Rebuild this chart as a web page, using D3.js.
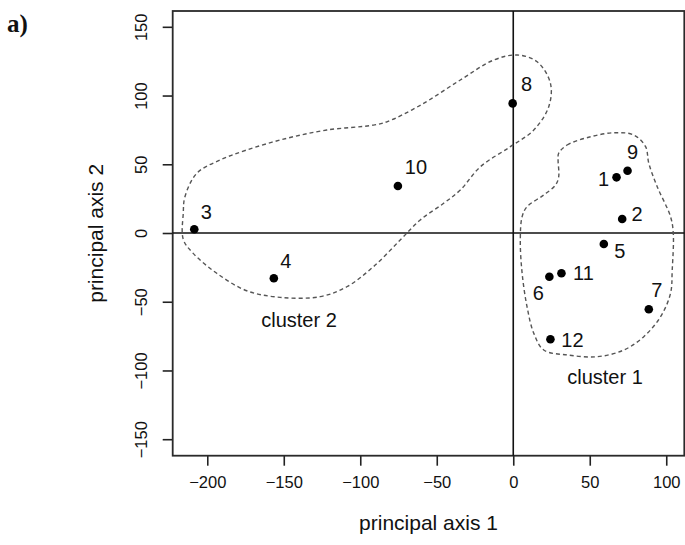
<!DOCTYPE html>
<html>
<head>
<meta charset="utf-8">
<script src="https://cdn.jsdelivr.net/npm/d3@7"></script>
<style>
  body { margin: 0; background: #fff; }
  svg { display: block; }
  text { font-family: "Liberation Sans", Arial, Helvetica, sans-serif; fill: #111; }
</style>
</head>
<body>
<div id="chart"></div>
<script>
// scores on the first two principal axes
const pointIds = ["1", "2", "3", "4", "5", "6", "7", "8", "9", "10", "11", "12"];
const axis1 = [67.5, 71.2, -208.5, -156.5, 59.2, 23.6, 88.6, -0.4, 74.7, -75.4, 31.5, 24.3];
const axis2 = [40.5, 10.2, 2.7, -32.9, -8.0, -31.8, -55.5, 94.3, 45.3, 34.2, -29.3, -77.3];

const xTicks = [-200, -150, -100, -50, 0, 50, 100];
const yTicks = [-150, -100, -50, 0, 50, 100, 150];

// dashed outlines drawn around each cluster, in axis units
const cluster1Outline = [
  [29.7, 58.0], [35.2, 64.0], [50.5, 70.0], [65.7, 72.9], [78.8, 71.3], [86.5, 62.8],
  [88.6, 50.7], [94.1, 33.7], [102.8, 11.9], [104.6, -0.2], [103.9, -26.9], [102.8, -43.9],
  [96.3, -60.9], [85.3, -75.4], [72.3, -85.1], [54.8, -90.0], [35.2, -88.7], [19.9, -85.1],
  [13.4, -72.9], [9.0, -53.6], [5.8, -29.3], [4.6, -5.1], [5.8, 11.9], [9.0, 19.1],
  [19.9, 27.6], [27.6, 34.9], [29.7, 40.9], [29.3, 53.1]
];
const cluster2Outline = [
  [-215.7, 14.3], [-214.6, 26.4], [-206.9, 43.4], [-191.7, 53.1], [-174.2, 60.4], [-148.0, 68.9],
  [-121.9, 74.9], [-91.4, 78.5], [-82.6, 80.9], [-60.8, 92.9], [-34.6, 111.3], [-12.8, 125.8],
  [2.5, 129.5], [15.6, 124.6], [24.3, 108.9], [23.2, 91.9], [13.4, 74.9], [-1.9, 62.8],
  [-21.5, 48.2], [-34.6, 31.3], [-45.5, 21.6], [-60.8, 9.5], [-73.9, -5.1], [-91.4, -24.5],
  [-108.8, -39.1], [-126.2, -46.3], [-152.4, -46.8], [-174.2, -42.0], [-193.8, -29.3],
  [-209.2, -14.8], [-215.7, -4.6]
];
const clusterNames = ["cluster 1", "cluster 2"];

// layout only: where each number sits relative to its dot (px)
const labelOffset = {
  "1": [-13, 2], "2": [15, -5], "3": [12, -17], "4": [12, -17], "5": [16, 7], "6": [-11, 16],
  "7": [8, -19], "8": [14, -19], "9": [5, -19], "10": [18, -19], "11": [22, 0], "12": [22, 1]
};
const clusterLabelPos = { "cluster 1": [605, 377], "cluster 2": [299, 320] };

const width = 685, height = 545;
const box = { left: 172.7, right: 684.3, top: 11, bottom: 455.7 };

const svg = d3.select("#chart").append("svg")
  .attr("width", width)
  .attr("height", height);

const x = d3.scaleLinear().domain([-222.6, 111.8]).range([box.left, box.right]);
const y = d3.scaleLinear().domain([-162, 161.5]).range([box.bottom, box.top]);

const points = pointIds.map((id, i) => ({ id, a1: axis1[i], a2: axis2[i] }));

// panel letter
svg.append("text")
  .attr("x", 7)
  .attr("y", 32)
  .style("font-family", "'Liberation Serif', 'Times New Roman', serif")
  .style("font-weight", "bold")
  .style("font-size", "25px")
  .text("a)");

// x axis at the bottom of the box
const xAxis = svg.append("g")
  .attr("transform", `translate(0,${box.bottom})`)
  .call(d3.axisBottom(x).tickValues(xTicks).tickSize(10).tickPadding(11)
    .tickFormat(d => d < 0 ? "\u2212" + Math.abs(d) : d));
xAxis.select(".domain").remove();
xAxis.selectAll("line").attr("stroke", "#222").attr("stroke-width", 1.6);
xAxis.selectAll("text")
  .style("font-size", "16.5px")
  .style("font-family", "'Liberation Sans', Arial, sans-serif")
  .attr("fill", "#111");

// y axis, labels turned like R's default
const yAxis = svg.append("g")
  .attr("transform", `translate(${box.left},0)`)
  .call(d3.axisLeft(y).tickValues(yTicks).tickSize(10)
    .tickFormat(d => d < 0 ? "\u2212" + Math.abs(d) : d));
yAxis.select(".domain").remove();
yAxis.selectAll("line").attr("stroke", "#222").attr("stroke-width", 1.6);
yAxis.selectAll("text")
  .attr("x", null).attr("dy", null)
  .attr("text-anchor", "middle")
  .attr("transform", `translate(${147 - box.left},0) rotate(-90)`)
  .style("font-size", "16.5px")
  .style("font-family", "'Liberation Sans', Arial, sans-serif")
  .attr("fill", "#111");

// frame
svg.append("rect")
  .attr("x", box.left)
  .attr("y", box.top)
  .attr("width", box.right - box.left)
  .attr("height", box.bottom - box.top)
  .attr("fill", "none")
  .attr("stroke", "#2a2a2a")
  .attr("stroke-width", 1.8);

// reference lines through the origin
svg.append("line")
  .attr("x1", box.left).attr("x2", box.right)
  .attr("y1", y(0)).attr("y2", y(0))
  .attr("stroke", "#111").attr("stroke-width", 1.6);
svg.append("line")
  .attr("x1", x(0)).attr("x2", x(0))
  .attr("y1", box.top).attr("y2", box.bottom)
  .attr("stroke", "#111").attr("stroke-width", 1.6);

// cluster outlines
const outline = d3.line()
  .x(d => x(d[0]))
  .y(d => y(d[1]))
  .curve(d3.curveCatmullRomClosed.alpha(0.5));

svg.selectAll("path.hull")
  .data([cluster1Outline, cluster2Outline])
  .enter().append("path")
  .attr("class", "hull")
  .attr("d", outline)
  .attr("fill", "none")
  .attr("stroke", "#555")
  .attr("stroke-width", 1.4)
  .attr("stroke-dasharray", "4,3");

// points
svg.selectAll("circle")
  .data(points)
  .enter().append("circle")
  .attr("cx", d => x(d.a1))
  .attr("cy", d => y(d.a2))
  .attr("r", 4.3)
  .attr("fill", "#000");

svg.selectAll("text.pt")
  .data(points)
  .enter().append("text")
  .attr("class", "pt")
  .attr("x", d => x(d.a1) + labelOffset[d.id][0])
  .attr("y", d => y(d.a2) + labelOffset[d.id][1] + 7)
  .attr("text-anchor", "middle")
  .style("font-size", "20px")
  .text(d => d.id);

svg.selectAll("text.cl")
  .data(clusterNames)
  .enter().append("text")
  .attr("class", "cl")
  .attr("x", d => clusterLabelPos[d][0])
  .attr("y", d => clusterLabelPos[d][1] + 7)
  .attr("text-anchor", "middle")
  .style("font-size", "20px")
  .text(d => d);

// axis titles
svg.append("text")
  .attr("x", (box.left + box.right) / 2)
  .attr("y", 530)
  .attr("text-anchor", "middle")
  .style("font-size", "21px")
  .text("principal axis 1");

svg.append("text")
  .attr("transform", `translate(103,${(box.top + box.bottom) / 2}) rotate(-90)`)
  .attr("text-anchor", "middle")
  .style("font-size", "21px")
  .text("principal axis 2");
</script>
</body>
</html>
